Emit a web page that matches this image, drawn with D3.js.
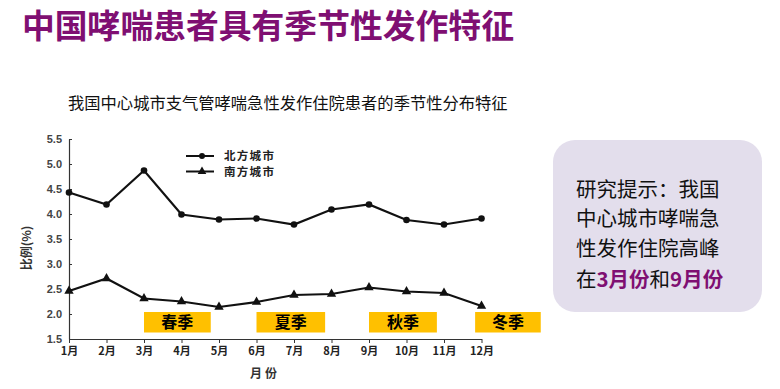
<!DOCTYPE html>
<html><head><meta charset="utf-8">
<script src="https://cdn.jsdelivr.net/npm/d3@7"></script>
<style>
html,body{margin:0;padding:0;background:#fff;}
svg{display:block;}
</style></head>
<body>
<svg id="c" width="780" height="389"></svg>
<script>
const months = ["1月","2月","3月","4月","5月","6月","7月","8月","9月","10月","11月","12月"];
const northValues = [4.43, 4.19, 4.87, 3.99, 3.89, 3.91, 3.79, 4.09, 4.19, 3.88, 3.79, 3.91];
const southValues = [2.46, 2.71, 2.31, 2.25, 2.14, 2.24, 2.38, 2.40, 2.53, 2.45, 2.42, 2.16];
const yTicks = [1.5, 2.0, 2.5, 3.0, 3.5, 4.0, 4.5, 5.0, 5.5];
const seasonNames = ["春季","夏季","秋季","冬季"];
const seasonStart = [3, 6, 9, 11.83];
const seasonEnd = [4.78, 7.83, 10.81, 13.58];
const seriesNames = ["北方城市","南方城市"];

const svg = d3.select("#c");
const cjk = "'Noto Sans CJK SC','Noto Sans',sans-serif";

// Title
svg.append("text").attr("x", 22).attr("y", 38)
  .attr("font-family", cjk).attr("font-weight", 700).attr("font-size", 32.8)
  .attr("fill", "#7F0F72").text("中国哮喘患者具有季节性发作特征");

svg.append("text").attr("x", 68).attr("y", 109)
  .attr("font-family", cjk).attr("font-size", 16.3)
  .attr("fill", "#111").text("我国中心城市支气管哮喘急性发作住院患者的季节性分布特征");

const x = d3.scaleLinear().domain([1, 12]).range([69, 481.5]);
const y = d3.scaleLinear().domain([1.5, 5.5]).range([339, 139]);

// Season boxes
const sg = svg.append("g");
seasonNames.forEach((s, i) => {
  const x0 = x(seasonStart[i]), x1 = x(seasonEnd[i]);
  sg.append("rect").attr("x", x0).attr("y", 312).attr("width", x1 - x0).attr("height", 20.5)
    .attr("fill", "#FFC000");
  sg.append("text").attr("x", (x0 + x1) / 2).attr("y", 328)
    .attr("text-anchor", "middle").attr("font-family", cjk).attr("font-weight", 700)
    .attr("font-size", 16).attr("fill", "#000").text(s);
});

// Axes
const yAxis = d3.axisLeft(y).tickValues(yTicks).tickFormat(d3.format(".1f")).tickSizeInner(-3).tickSizeOuter(0).tickPadding(7);
const gy = svg.append("g").attr("transform", "translate(69,0)").call(yAxis);
gy.select(".domain").attr("stroke", "#333").attr("stroke-width", 1.2);
gy.selectAll(".tick line").attr("stroke", "#333");
gy.selectAll(".tick text").attr("font-family", "'Liberation Sans',Arial,sans-serif")
  .attr("font-size", 11).attr("font-weight", 700).attr("fill", "#444");

const xAxis = d3.axisBottom(x).tickValues(d3.range(1, 13)).tickFormat(d => months[d - 1]).tickSizeInner(4).tickSizeOuter(0).tickPadding(4);
const gx = svg.append("g").attr("transform", "translate(0,339)").call(xAxis);
gx.select(".domain").attr("stroke", "#333").attr("stroke-width", 1.2);
gx.selectAll(".tick line").attr("stroke", "#333");
gx.selectAll(".tick text").attr("font-family", "'Noto Sans CJK SC',serif")
  .attr("font-size", 11).attr("font-weight", 700).attr("fill", "#222");

// Axis titles
svg.append("text").attr("transform", "translate(31,248) rotate(-90)")
  .attr("text-anchor", "middle").attr("font-family", cjk).attr("font-size", 12)
  .attr("font-weight", 700).attr("fill", "#333").text("比例(%)");
svg.append("text").attr("x", 265).attr("y", 378).attr("text-anchor", "middle")
  .attr("font-family", cjk).attr("font-size", 12).attr("font-weight", 700)
  .attr("fill", "#333").attr("letter-spacing", 3).text("月份");

// Lines
const line = d3.line().x((d, i) => x(i + 1)).y(d => y(d));
svg.append("path").datum(northValues).attr("d", line).attr("fill", "none")
  .attr("stroke", "#111").attr("stroke-width", 2.2);
svg.append("path").datum(southValues).attr("d", line).attr("fill", "none")
  .attr("stroke", "#111").attr("stroke-width", 2.2);

svg.append("g").selectAll("circle").data(northValues).join("circle")
  .attr("cx", (d, i) => x(i + 1)).attr("cy", d => y(d)).attr("r", 3.3).attr("fill", "#111");
const tri = d3.symbol().type(d3.symbolTriangle).size(38);
svg.append("g").selectAll("path").data(southValues).join("path")
  .attr("transform", (d, i) => `translate(${x(i + 1)},${y(d)})`).attr("d", tri).attr("fill", "#111");

// Legend
const lg = svg.append("g");
[0, 1].forEach(i => {
  const ly = 156 + i * 15.5;
  lg.append("line").attr("x1", 186).attr("x2", 214).attr("y1", ly).attr("y2", ly)
    .attr("stroke", "#111").attr("stroke-width", 2);
  if (i === 0) lg.append("circle").attr("cx", 202).attr("cy", ly).attr("r", 3).attr("fill", "#111");
  else lg.append("path").attr("transform", `translate(202,${ly})`).attr("d", d3.symbol().type(d3.symbolTriangle).size(32)).attr("fill", "#111");
  lg.append("text").attr("x", 224).attr("y", ly + 4).attr("font-family", "'Noto Sans CJK SC',serif")
    .attr("font-size", 11.5).attr("font-weight", 700).attr("fill", "#222").attr("letter-spacing", 1.3)
    .text(seriesNames[i]);
});

// Callout box
svg.append("rect").attr("x", 553).attr("y", 140).attr("width", 209).attr("height", 172)
  .attr("rx", 22).attr("fill", "#E3DEEC");
const cl = ["研究提示：我国", "中心城市哮喘急", "性发作住院高峰"];
cl.forEach((t, i) => {
  svg.append("text").attr("x", 576).attr("y", 197 + i * 29.3)
    .attr("font-family", cjk).attr("font-size", 20.5).attr("fill", "#111").text(t);
});
const last = svg.append("text").attr("x", 576).attr("y", 287)
  .attr("font-family", cjk).attr("font-size", 20.5).attr("fill", "#111");
last.append("tspan").text("在");
last.append("tspan").attr("font-weight", 700).attr("fill", "#7F0F72").text("3月份");
last.append("tspan").text("和");
last.append("tspan").attr("font-weight", 700).attr("fill", "#7F0F72").text("9月份");
</script>
</body></html>
